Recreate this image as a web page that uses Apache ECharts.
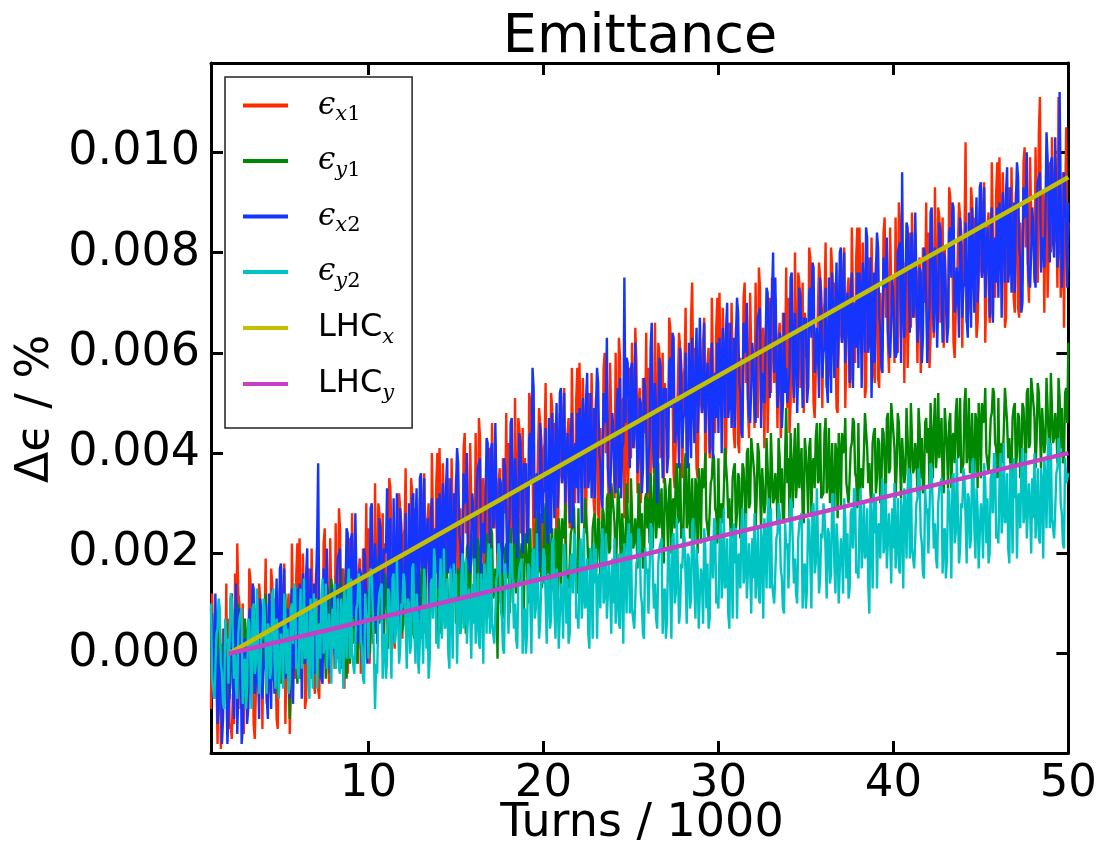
<!DOCTYPE html>
<html>
<head>
<meta charset="utf-8">
<script src="https://cdn.jsdelivr.net/npm/echarts@6/dist/echarts.min.js"></script>
<style>
  html, body { margin: 0; padding: 0; background: #ffffff; }
  #chart { width: 1100px; height: 846px; }
</style>
</head>
<body>
<div id="chart"></div>
<script>
// Sampling of the tracked turns (in units of 1000 turns): one sample every 62.5 turns from 1000 on.
const TURN_START = 1;
const TURN_STEP = 0.0625;

const xTicks = [10, 20, 30, 40, 50];
const yTicks = [0, 0.002, 0.004, 0.006, 0.008, 0.010];

// Relative emittance growth (%) of beam 1 / beam 2, horizontal and vertical (16 samples per 1000 turns).
const epsX1 = [
  -0.0011,0.0012,-0.0001,-0.0009,0.0008,0.0008,-0.0018,0.0000,0.0003,-0.0019,-0.0014,0.0005,-0.0006,-0.0005,0.0014,-0.0014,
  0.0007,-0.0015,-0.0014,-0.0017,-0.0008,-0.0014,0.0016,-0.0007,0.0022,0.0012,0.0010,-0.0011,0.0003,0.0010,-0.0016,0.0004,
  -0.0005,-0.0003,-0.0011,0.0017,0.0015,0.0006,0.0003,-0.0014,-0.0017,-0.0008,-0.0006,0.0005,0.0014,0.0011,0.0008,-0.0015,
  0.0005,0.0007,0.0019,-0.0010,-0.0009,-0.0007,-0.0003,0.0017,0.0014,0.0004,0.0011,-0.0001,-0.0013,-0.0015,0.0000,0.0013,
  0.0001,-0.0001,0.0013,0.0018,-0.0014,-0.0014,0.0009,0.0012,-0.0016,-0.0008,0.0022,0.0007,-0.0004,-0.0005,0.0016,0.0022,
  0.0012,0.0023,0.0004,-0.0002,0.0020,0.0011,-0.0011,-0.0009,0.0014,0.0017,0.0001,0.0000,0.0021,0.0008,-0.0005,-0.0008,
  0.0016,0.0017,-0.0007,-0.0009,0.0010,-0.0003,-0.0001,0.0022,0.0025,0.0005,0.0019,0.0000,-0.0006,0.0023,0.0011,0.0006,
  0.0009,-0.0003,0.0026,0.0006,-0.0001,0.0029,0.0025,0.0002,0.0016,0.0017,-0.0007,0.0013,0.0020,-0.0004,0.0005,0.0023,
  0.0005,0.0028,0.0015,0.0007,0.0024,0.0024,-0.0002,0.0016,0.0019,-0.0004,0.0002,0.0021,0.0010,0.0011,0.0030,0.0002,
  0.0025,-0.0002,0.0004,0.0025,0.0010,0.0004,0.0034,0.0011,0.0007,0.0030,0.0028,0.0007,0.0021,0.0028,0.0002,0.0022,
  0.0013,0.0015,0.0007,0.0035,0.0033,0.0024,0.0021,0.0004,0.0001,0.0010,0.0012,0.0023,0.0032,0.0029,0.0026,0.0003,
  0.0023,0.0025,0.0037,0.0008,0.0009,0.0011,0.0015,0.0035,0.0032,0.0022,0.0029,0.0017,0.0005,0.0003,0.0018,0.0031,
  0.0019,0.0017,0.0031,0.0036,0.0004,0.0004,0.0027,0.0030,0.0008,0.0010,0.0040,0.0025,0.0014,0.0013,0.0034,0.0040,
  0.0030,0.0041,0.0022,0.0016,0.0038,0.0029,0.0007,0.0009,0.0032,0.0035,0.0019,0.0018,0.0039,0.0026,0.0013,0.0010,
  0.0035,0.0036,0.0012,0.0010,0.0029,0.0016,0.0018,0.0041,0.0044,0.0024,0.0038,0.0019,0.0013,0.0042,0.0030,0.0025,
  0.0027,0.0015,0.0044,0.0024,0.0017,0.0047,0.0043,0.0020,0.0034,0.0035,0.0011,0.0031,0.0038,0.0014,0.0023,0.0041,
  0.0023,0.0046,0.0033,0.0025,0.0042,0.0042,0.0016,0.0034,0.0037,0.0014,0.0020,0.0039,0.0028,0.0029,0.0048,0.0020,
  0.0042,0.0015,0.0021,0.0042,0.0027,0.0021,0.0051,0.0028,0.0024,0.0047,0.0045,0.0024,0.0038,0.0045,0.0019,0.0039,
  0.0030,0.0032,0.0024,0.0052,0.0050,0.0041,0.0038,0.0021,0.0018,0.0027,0.0029,0.0040,0.0049,0.0046,0.0043,0.0020,
  0.0040,0.0042,0.0054,0.0025,0.0026,0.0028,0.0032,0.0052,0.0049,0.0039,0.0046,0.0034,0.0022,0.0020,0.0035,0.0048,
  0.0036,0.0034,0.0048,0.0053,0.0021,0.0021,0.0044,0.0047,0.0025,0.0027,0.0057,0.0042,0.0031,0.0030,0.0051,0.0057,
  0.0047,0.0058,0.0039,0.0033,0.0055,0.0046,0.0024,0.0026,0.0049,0.0052,0.0036,0.0035,0.0056,0.0043,0.0030,0.0027,
  0.0051,0.0052,0.0028,0.0026,0.0045,0.0032,0.0034,0.0057,0.0060,0.0040,0.0054,0.0035,0.0029,0.0058,0.0046,0.0041,
  0.0043,0.0031,0.0060,0.0040,0.0033,0.0063,0.0059,0.0036,0.0050,0.0051,0.0027,0.0047,0.0054,0.0030,0.0039,0.0057,
  0.0039,0.0062,0.0049,0.0041,0.0065,0.0058,0.0032,0.0050,0.0053,0.0030,0.0036,0.0055,0.0044,0.0045,0.0064,0.0029,
  0.0057,0.0030,0.0036,0.0057,0.0042,0.0036,0.0066,0.0043,0.0039,0.0062,0.0060,0.0039,0.0053,0.0060,0.0034,0.0054,
  0.0045,0.0047,0.0039,0.0067,0.0065,0.0056,0.0053,0.0036,0.0033,0.0042,0.0044,0.0055,0.0064,0.0061,0.0058,0.0035,
  0.0055,0.0057,0.0069,0.0040,0.0041,0.0043,0.0047,0.0067,0.0074,0.0054,0.0061,0.0049,0.0037,0.0035,0.0050,0.0063,
  0.0050,0.0048,0.0062,0.0067,0.0035,0.0035,0.0058,0.0061,0.0039,0.0041,0.0071,0.0056,0.0045,0.0044,0.0065,0.0071,
  0.0061,0.0072,0.0053,0.0047,0.0069,0.0060,0.0038,0.0040,0.0063,0.0066,0.0050,0.0049,0.0070,0.0057,0.0044,0.0041,
  0.0065,0.0066,0.0042,0.0040,0.0059,0.0046,0.0048,0.0071,0.0074,0.0054,0.0068,0.0049,0.0043,0.0072,0.0060,0.0055,
  0.0057,0.0045,0.0074,0.0054,0.0047,0.0077,0.0073,0.0050,0.0064,0.0065,0.0041,0.0061,0.0068,0.0044,0.0053,0.0071,
  0.0052,0.0075,0.0062,0.0054,0.0071,0.0071,0.0045,0.0063,0.0066,0.0043,0.0049,0.0068,0.0057,0.0058,0.0077,0.0049,
  0.0071,0.0044,0.0050,0.0071,0.0056,0.0050,0.0080,0.0057,0.0053,0.0076,0.0074,0.0053,0.0067,0.0074,0.0048,0.0068,
  0.0059,0.0061,0.0053,0.0081,0.0079,0.0070,0.0067,0.0050,0.0047,0.0056,0.0058,0.0069,0.0078,0.0075,0.0072,0.0049,
  0.0068,0.0070,0.0082,0.0053,0.0054,0.0056,0.0060,0.0081,0.0077,0.0067,0.0074,0.0062,0.0049,0.0048,0.0063,0.0076,
  0.0064,0.0062,0.0076,0.0081,0.0049,0.0049,0.0072,0.0075,0.0053,0.0055,0.0085,0.0070,0.0059,0.0058,0.0079,0.0085,
  0.0074,0.0085,0.0066,0.0060,0.0082,0.0073,0.0051,0.0053,0.0076,0.0079,0.0063,0.0062,0.0083,0.0070,0.0057,0.0054,
  0.0078,0.0079,0.0055,0.0053,0.0072,0.0059,0.0061,0.0084,0.0087,0.0067,0.0081,0.0062,0.0056,0.0085,0.0073,0.0068,
  0.0070,0.0058,0.0087,0.0067,0.0060,0.0090,0.0086,0.0063,0.0077,0.0078,0.0054,0.0074,0.0081,0.0057,0.0066,0.0084,
  0.0065,0.0088,0.0075,0.0067,0.0084,0.0084,0.0058,0.0076,0.0079,0.0056,0.0062,0.0081,0.0070,0.0071,0.0090,0.0062,
  0.0084,0.0057,0.0063,0.0084,0.0069,0.0063,0.0093,0.0070,0.0066,0.0089,0.0087,0.0066,0.0080,0.0087,0.0061,0.0081,
  0.0071,0.0073,0.0065,0.0093,0.0091,0.0082,0.0079,0.0062,0.0059,0.0068,0.0070,0.0081,0.0090,0.0087,0.0084,0.0061,
  0.0081,0.0083,0.0102,0.0066,0.0067,0.0069,0.0073,0.0093,0.0090,0.0080,0.0087,0.0075,0.0063,0.0066,0.0076,0.0089,
  0.0077,0.0075,0.0089,0.0094,0.0062,0.0062,0.0085,0.0088,0.0066,0.0068,0.0098,0.0083,0.0072,0.0071,0.0092,0.0098,
  0.0088,0.0099,0.0080,0.0074,0.0096,0.0087,0.0065,0.0067,0.0090,0.0093,0.0077,0.0076,0.0097,0.0084,0.0071,0.0068,
  0.0092,0.0093,0.0069,0.0067,0.0086,0.0073,0.0075,0.0098,0.0101,0.0081,0.0095,0.0076,0.0070,0.0099,0.0087,0.0082,
  0.0084,0.0074,0.0101,0.0081,0.0074,0.0104,0.0111,0.0077,0.0091,0.0092,0.0068,0.0088,0.0095,0.0071,0.0080,0.0098,
  0.0080,0.0103,0.0090,0.0082,0.0099,0.0099,0.0073,0.0111,0.0094,0.0071,0.0077,0.0096,0.0065,0.0086,0.0105,0.0077,
  0.0086
];

const epsY1 = [
  0.0009,0.0009,-0.0005,-0.0004,0.0001,-0.0002,-0.0009,0.0008,0.0004,-0.0006,0.0002,-0.0009,-0.0008,0.0005,0.0006,-0.0001,
  0.0003,-0.0009,0.0008,0.0001,-0.0007,0.0003,0.0009,-0.0005,-0.0001,0.0010,-0.0003,-0.0003,0.0005,-0.0008,-0.0010,0.0007,
  0.0004,0.0000,-0.0008,0.0005,0.0007,-0.0008,0.0002,0.0003,-0.0003,0.0007,0.0010,-0.0002,-0.0001,0.0010,-0.0005,-0.0005,
  -0.0003,0.0009,0.0012,-0.0003,-0.0001,0.0010,-0.0005,-0.0001,0.0007,-0.0005,-0.0006,0.0007,0.0005,-0.0008,0.0009,0.0005,
  -0.0006,0.0009,0.0005,0.0011,0.0012,-0.0001,-0.0003,-0.0005,-0.0013,0.0006,0.0007,0.0012,0.0011,0.0001,0.0000,-0.0006,
  0.0011,-0.0005,0.0001,0.0002,-0.0002,0.0005,0.0013,0.0013,0.0006,-0.0001,0.0003,-0.0003,-0.0005,0.0007,0.0009,0.0010,
  -0.0003,0.0000,0.0008,0.0007,-0.0005,-0.0002,0.0010,0.0009,0.0003,-0.0005,0.0012,0.0013,0.0001,0.0002,0.0015,0.0015,
  0.0010,0.0007,-0.0003,0.0003,0.0014,0.0012,0.0005,0.0017,0.0009,0.0009,0.0000,0.0002,-0.0005,0.0015,0.0003,-0.0002,
  0.0016,0.0016,0.0002,0.0003,0.0008,0.0005,-0.0002,0.0015,0.0011,0.0001,0.0009,-0.0002,-0.0001,0.0012,0.0013,0.0006,
  0.0012,0.0000,0.0017,0.0010,0.0002,0.0012,0.0018,0.0004,0.0008,0.0019,0.0006,0.0006,0.0014,0.0001,-0.0001,0.0016,
  0.0013,0.0009,0.0001,0.0014,0.0016,0.0001,0.0011,0.0012,0.0006,0.0016,0.0019,0.0007,0.0008,0.0019,0.0004,0.0004,
  0.0006,0.0018,0.0021,0.0006,0.0008,0.0019,0.0004,0.0008,0.0016,0.0004,0.0003,0.0016,0.0014,0.0001,0.0018,0.0014,
  0.0003,0.0018,0.0014,0.0015,0.0021,0.0008,0.0006,0.0004,0.0009,0.0015,0.0016,0.0021,0.0020,0.0010,0.0009,0.0003,
  0.0020,0.0004,0.0010,0.0011,0.0007,0.0014,0.0022,0.0022,0.0015,0.0008,0.0012,0.0006,0.0004,0.0016,0.0018,0.0019,
  0.0006,0.0009,0.0017,0.0016,0.0004,0.0007,0.0019,0.0018,0.0012,0.0004,0.0021,0.0022,0.0010,0.0011,0.0024,0.0024,
  0.0019,0.0016,0.0006,0.0012,0.0023,0.0021,0.0014,0.0006,0.0018,0.0018,0.0009,0.0011,0.0024,0.0024,0.0012,0.0007,
  0.0025,0.0024,0.0011,0.0012,0.0017,0.0014,-0.0001,0.0024,0.0020,0.0010,0.0018,0.0007,0.0008,0.0021,0.0022,0.0015,
  0.0020,0.0008,0.0025,0.0018,0.0010,0.0020,0.0026,0.0012,0.0016,0.0027,0.0014,0.0014,0.0022,0.0009,0.0007,0.0024,
  0.0022,0.0018,0.0010,0.0023,0.0025,0.0010,0.0020,0.0021,0.0015,0.0025,0.0028,0.0016,0.0017,0.0028,0.0013,0.0013,
  0.0015,0.0027,0.0030,0.0015,0.0017,0.0028,0.0013,0.0017,0.0025,0.0013,0.0012,0.0025,0.0023,0.0010,0.0027,0.0023,
  0.0012,0.0027,0.0023,0.0024,0.0030,0.0017,0.0015,0.0013,0.0018,0.0024,0.0025,0.0030,0.0029,0.0019,0.0018,0.0012,
  0.0029,0.0013,0.0019,0.0020,0.0016,0.0023,0.0031,0.0031,0.0024,0.0017,0.0021,0.0015,0.0013,0.0025,0.0027,0.0028,
  0.0016,0.0019,0.0027,0.0026,0.0014,0.0017,0.0029,0.0028,0.0022,0.0014,0.0031,0.0032,0.0020,0.0021,0.0034,0.0034,
  0.0029,0.0026,0.0016,0.0022,0.0033,0.0031,0.0024,0.0016,0.0028,0.0028,0.0019,0.0021,0.0034,0.0034,0.0022,0.0017,
  0.0035,0.0035,0.0021,0.0022,0.0027,0.0024,0.0017,0.0034,0.0030,0.0020,0.0028,0.0017,0.0018,0.0031,0.0032,0.0025,
  0.0031,0.0022,0.0036,0.0029,0.0021,0.0031,0.0042,0.0023,0.0027,0.0038,0.0025,0.0025,0.0033,0.0020,0.0018,0.0035,
  0.0032,0.0028,0.0020,0.0033,0.0035,0.0020,0.0030,0.0031,0.0025,0.0035,0.0038,0.0026,0.0027,0.0038,0.0023,0.0023,
  0.0025,0.0037,0.0040,0.0025,0.0027,0.0038,0.0023,0.0027,0.0035,0.0023,0.0022,0.0035,0.0033,0.0020,0.0037,0.0033,
  0.0022,0.0037,0.0033,0.0034,0.0040,0.0027,0.0025,0.0023,0.0028,0.0034,0.0035,0.0040,0.0039,0.0029,0.0028,0.0022,
  0.0039,0.0023,0.0029,0.0030,0.0026,0.0033,0.0041,0.0041,0.0034,0.0027,0.0031,0.0025,0.0023,0.0035,0.0037,0.0038,
  0.0025,0.0028,0.0036,0.0035,0.0023,0.0026,0.0038,0.0037,0.0031,0.0023,0.0040,0.0041,0.0029,0.0030,0.0043,0.0043,
  0.0038,0.0035,0.0025,0.0031,0.0042,0.0040,0.0033,0.0025,0.0037,0.0037,0.0028,0.0030,0.0043,0.0043,0.0031,0.0026,
  0.0044,0.0044,0.0030,0.0031,0.0036,0.0033,0.0026,0.0043,0.0039,0.0030,0.0037,0.0026,0.0027,0.0040,0.0049,0.0034,
  0.0039,0.0027,0.0044,0.0037,0.0029,0.0039,0.0045,0.0031,0.0035,0.0046,0.0033,0.0033,0.0041,0.0028,0.0026,0.0043,
  0.0040,0.0036,0.0028,0.0041,0.0043,0.0028,0.0038,0.0039,0.0033,0.0043,0.0046,0.0034,0.0035,0.0046,0.0031,0.0031,
  0.0032,0.0044,0.0047,0.0032,0.0034,0.0045,0.0030,0.0034,0.0042,0.0030,0.0029,0.0042,0.0040,0.0027,0.0044,0.0040,
  0.0029,0.0044,0.0040,0.0041,0.0047,0.0034,0.0032,0.0030,0.0035,0.0041,0.0042,0.0047,0.0046,0.0036,0.0035,0.0029,
  0.0046,0.0030,0.0036,0.0037,0.0033,0.0040,0.0048,0.0048,0.0041,0.0034,0.0038,0.0032,0.0030,0.0042,0.0044,0.0045,
  0.0032,0.0035,0.0043,0.0042,0.0030,0.0033,0.0045,0.0044,0.0038,0.0030,0.0047,0.0048,0.0036,0.0037,0.0050,0.0050,
  0.0044,0.0041,0.0031,0.0037,0.0048,0.0046,0.0039,0.0031,0.0043,0.0043,0.0034,0.0036,0.0049,0.0049,0.0037,0.0032,
  0.0050,0.0050,0.0036,0.0037,0.0042,0.0039,0.0032,0.0049,0.0045,0.0035,0.0043,0.0032,0.0033,0.0046,0.0047,0.0040,
  0.0045,0.0033,0.0050,0.0043,0.0035,0.0045,0.0051,0.0037,0.0041,0.0052,0.0039,0.0039,0.0047,0.0034,0.0032,0.0049,
  0.0045,0.0041,0.0033,0.0046,0.0048,0.0033,0.0043,0.0044,0.0038,0.0048,0.0051,0.0039,0.0040,0.0051,0.0036,0.0036,
  0.0038,0.0050,0.0053,0.0038,0.0040,0.0051,0.0036,0.0040,0.0048,0.0036,0.0035,0.0048,0.0046,0.0033,0.0050,0.0046,
  0.0035,0.0050,0.0046,0.0047,0.0053,0.0040,0.0038,0.0036,0.0041,0.0047,0.0048,0.0053,0.0052,0.0042,0.0041,0.0035,
  0.0051,0.0035,0.0041,0.0042,0.0038,0.0045,0.0053,0.0053,0.0046,0.0039,0.0043,0.0037,0.0035,0.0047,0.0049,0.0050,
  0.0037,0.0040,0.0048,0.0047,0.0035,0.0038,0.0050,0.0049,0.0043,0.0035,0.0052,0.0053,0.0041,0.0042,0.0055,0.0055,
  0.0050,0.0047,0.0037,0.0043,0.0054,0.0052,0.0045,0.0037,0.0049,0.0049,0.0040,0.0042,0.0055,0.0055,0.0043,0.0038,
  0.0056,0.0056,0.0042,0.0043,0.0048,0.0045,0.0038,0.0055,0.0051,0.0041,0.0049,0.0038,0.0039,0.0052,0.0053,0.0046,
  0.0062
];

const epsX2 = [
  0.0007,0.0008,-0.0009,-0.0007,0.0012,0.0012,-0.0014,-0.0011,0.0001,0.0000,-0.0018,-0.0013,0.0005,0.0003,-0.0006,-0.0018,
  -0.0011,-0.0008,0.0011,0.0012,-0.0006,-0.0013,0.0004,0.0014,-0.0016,-0.0007,0.0009,0.0007,-0.0018,-0.0015,0.0003,0.0002,
  0.0003,-0.0014,-0.0011,0.0008,0.0009,-0.0001,0.0014,0.0013,-0.0008,-0.0006,0.0001,-0.0003,-0.0013,0.0011,0.0006,-0.0009,
  -0.0003,-0.0002,0.0010,-0.0009,-0.0013,0.0012,0.0006,-0.0011,0.0013,0.0003,-0.0008,0.0007,0.0015,-0.0006,0.0001,0.0017,
  0.0018,-0.0001,0.0001,0.0017,-0.0005,-0.0005,0.0009,0.0003,-0.0009,0.0010,0.0013,-0.0010,0.0005,0.0007,-0.0002,0.0013,
  -0.0005,0.0014,0.0010,-0.0009,0.0016,0.0011,-0.0002,0.0016,0.0021,-0.0002,0.0001,0.0017,-0.0004,0.0002,0.0014,-0.0004,
  0.0014,0.0022,0.0038,0.0005,0.0003,-0.0005,-0.0006,0.0017,0.0011,0.0012,0.0021,0.0002,-0.0001,-0.0004,0.0004,0.0013,
  0.0010,0.0001,-0.0002,0.0015,0.0019,0.0020,0.0021,-0.0003,0.0007,0.0008,0.0002,0.0012,0.0025,0.0024,0.0014,0.0003,
  0.0023,0.0024,0.0007,0.0009,0.0028,0.0028,0.0002,0.0005,0.0017,0.0016,-0.0002,0.0003,0.0021,0.0019,0.0010,-0.0002,
  0.0007,0.0010,0.0029,0.0030,0.0012,0.0005,0.0022,0.0017,0.0002,0.0011,0.0027,0.0025,0.0015,0.0003,0.0021,0.0020,
  0.0021,0.0033,0.0007,0.0026,0.0027,0.0004,0.0003,0.0031,0.0010,0.0012,0.0032,0.0015,0.0005,0.0029,0.0024,0.0009,
  0.0015,0.0016,0.0028,0.0009,0.0005,0.0030,0.0024,0.0007,0.0031,0.0032,0.0010,0.0025,0.0033,0.0012,-0.0003,0.0035,
  0.0036,0.0017,0.0019,0.0035,0.0013,0.0013,0.0027,0.0021,0.0009,0.0028,0.0031,0.0008,0.0023,0.0025,0.0016,0.0031,
  0.0013,0.0032,0.0028,0.0009,0.0034,0.0029,0.0016,0.0034,0.0039,0.0016,0.0019,0.0035,0.0014,0.0020,0.0032,0.0014,
  0.0033,0.0041,0.0038,0.0024,0.0022,0.0014,0.0013,0.0036,0.0030,0.0031,0.0040,0.0021,0.0018,0.0016,0.0023,0.0032,
  0.0028,0.0019,0.0016,0.0033,0.0037,0.0038,0.0039,0.0015,0.0025,0.0026,0.0020,0.0030,0.0043,0.0042,0.0032,0.0021,
  0.0041,0.0042,0.0025,0.0027,0.0046,0.0046,0.0020,0.0023,0.0035,0.0034,0.0016,0.0021,0.0039,0.0037,0.0028,0.0016,
  0.0024,0.0027,0.0046,0.0047,0.0029,0.0022,0.0039,0.0034,0.0019,0.0028,0.0044,0.0042,0.0032,0.0020,0.0038,0.0037,
  0.0038,0.0022,0.0024,0.0043,0.0044,0.0034,0.0057,0.0053,0.0027,0.0029,0.0036,0.0032,0.0017,0.0046,0.0041,0.0026,
  0.0032,0.0033,0.0045,0.0026,0.0022,0.0047,0.0041,0.0024,0.0048,0.0038,0.0027,0.0042,0.0050,0.0029,0.0036,0.0052,
  0.0053,0.0034,0.0036,0.0052,0.0030,0.0030,0.0044,0.0038,0.0026,0.0045,0.0048,0.0025,0.0040,0.0042,0.0033,0.0048,
  0.0030,0.0049,0.0045,0.0026,0.0051,0.0046,0.0033,0.0051,0.0056,0.0033,0.0036,0.0052,0.0031,0.0037,0.0049,0.0031,
  0.0049,0.0057,0.0054,0.0040,0.0038,0.0031,0.0029,0.0052,0.0046,0.0047,0.0063,0.0037,0.0034,0.0032,0.0039,0.0048,
  0.0044,0.0035,0.0032,0.0049,0.0053,0.0033,0.0055,0.0031,0.0041,0.0042,0.0075,0.0046,0.0059,0.0058,0.0048,0.0037,
  0.0057,0.0058,0.0041,0.0043,0.0062,0.0062,0.0036,0.0039,0.0051,0.0050,0.0032,0.0037,0.0055,0.0053,0.0044,0.0032,
  0.0039,0.0042,0.0061,0.0066,0.0044,0.0037,0.0054,0.0049,0.0030,0.0043,0.0059,0.0057,0.0047,0.0035,0.0053,0.0052,
  0.0053,0.0036,0.0039,0.0058,0.0059,0.0049,0.0064,0.0063,0.0042,0.0044,0.0051,0.0047,0.0037,0.0061,0.0056,0.0041,
  0.0047,0.0048,0.0060,0.0041,0.0037,0.0062,0.0056,0.0039,0.0063,0.0053,0.0042,0.0057,0.0065,0.0044,0.0051,0.0067,
  0.0067,0.0048,0.0050,0.0066,0.0044,0.0044,0.0058,0.0052,0.0040,0.0059,0.0062,0.0039,0.0054,0.0056,0.0047,0.0062,
  0.0044,0.0063,0.0059,0.0040,0.0065,0.0060,0.0047,0.0065,0.0070,0.0047,0.0050,0.0066,0.0045,0.0051,0.0063,0.0045,
  0.0063,0.0071,0.0068,0.0054,0.0052,0.0044,0.0043,0.0066,0.0060,0.0061,0.0070,0.0051,0.0048,0.0046,0.0053,0.0062,
  0.0058,0.0049,0.0046,0.0063,0.0067,0.0068,0.0069,0.0045,0.0055,0.0056,0.0050,0.0060,0.0073,0.0072,0.0062,0.0051,
  0.0070,0.0071,0.0080,0.0056,0.0075,0.0075,0.0049,0.0052,0.0064,0.0063,0.0045,0.0050,0.0068,0.0052,0.0057,0.0050,
  0.0053,0.0056,0.0075,0.0076,0.0058,0.0051,0.0068,0.0063,0.0048,0.0057,0.0073,0.0071,0.0061,0.0049,0.0067,0.0066,
  0.0067,0.0050,0.0053,0.0072,0.0073,0.0063,0.0078,0.0077,0.0056,0.0058,0.0065,0.0061,0.0051,0.0075,0.0070,0.0055,
  0.0060,0.0061,0.0073,0.0054,0.0050,0.0075,0.0069,0.0052,0.0076,0.0066,0.0055,0.0070,0.0078,0.0057,0.0064,0.0080,
  0.0081,0.0062,0.0064,0.0080,0.0058,0.0058,0.0072,0.0066,0.0054,0.0073,0.0076,0.0053,0.0068,0.0070,0.0061,0.0076,
  0.0057,0.0076,0.0072,0.0053,0.0078,0.0073,0.0060,0.0085,0.0083,0.0060,0.0063,0.0079,0.0051,0.0064,0.0076,0.0058,
  0.0076,0.0084,0.0081,0.0067,0.0065,0.0057,0.0056,0.0079,0.0073,0.0074,0.0083,0.0064,0.0061,0.0059,0.0066,0.0075,
  0.0071,0.0062,0.0059,0.0060,0.0080,0.0081,0.0082,0.0058,0.0096,0.0069,0.0063,0.0073,0.0086,0.0085,0.0075,0.0064,
  0.0083,0.0084,0.0067,0.0069,0.0088,0.0088,0.0062,0.0065,0.0077,0.0076,0.0058,0.0063,0.0081,0.0079,0.0070,0.0058,
  0.0066,0.0069,0.0088,0.0089,0.0071,0.0064,0.0081,0.0076,0.0061,0.0070,0.0086,0.0084,0.0074,0.0062,0.0080,0.0079,
  0.0079,0.0062,0.0065,0.0084,0.0085,0.0075,0.0090,0.0089,0.0068,0.0070,0.0077,0.0073,0.0063,0.0087,0.0082,0.0067,
  0.0073,0.0074,0.0086,0.0067,0.0063,0.0088,0.0082,0.0065,0.0089,0.0079,0.0068,0.0083,0.0091,0.0070,0.0077,0.0093,
  0.0094,0.0075,0.0077,0.0093,0.0071,0.0071,0.0085,0.0079,0.0067,0.0086,0.0089,0.0066,0.0081,0.0083,0.0074,0.0089,
  0.0071,0.0090,0.0086,0.0067,0.0092,0.0087,0.0074,0.0092,0.0097,0.0074,0.0077,0.0093,0.0072,0.0078,0.0090,0.0072,
  0.0090,0.0098,0.0095,0.0081,0.0079,0.0068,0.0070,0.0093,0.0087,0.0088,0.0100,0.0078,0.0075,0.0073,0.0080,0.0089,
  0.0085,0.0076,0.0073,0.0090,0.0094,0.0095,0.0096,0.0076,0.0082,0.0083,0.0077,0.0087,0.0104,0.0099,0.0089,0.0078,
  0.0098,0.0099,0.0082,0.0079,0.0103,0.0103,0.0077,0.0080,0.0112,0.0091,0.0073,0.0078,0.0096,0.0094,0.0085,0.0073,
  0.0090
];

const epsY2 = [
  0.0010,-0.0005,-0.0007,-0.0009,-0.0003,0.0004,0.0005,0.0011,0.0009,-0.0002,-0.0004,-0.0010,-0.0011,0.0007,0.0002,0.0003,
  -0.0006,0.0002,0.0012,0.0011,0.0003,-0.0005,0.0000,-0.0007,-0.0009,0.0004,0.0007,0.0008,0.0009,-0.0010,-0.0002,-0.0001,
  -0.0011,-0.0007,0.0007,0.0006,-0.0001,-0.0011,0.0009,0.0010,-0.0004,-0.0002,0.0013,0.0013,-0.0008,-0.0005,0.0004,0.0003,
  0.0011,0.0009,0.0001,-0.0008,0.0006,0.0005,-0.0005,-0.0003,0.0012,0.0013,-0.0001,-0.0007,0.0007,0.0003,-0.0009,-0.0002,
  0.0004,0.0001,-0.0007,0.0012,0.0008,-0.0004,0.0005,-0.0008,-0.0006,0.0009,0.0010,0.0002,0.0014,0.0013,-0.0003,-0.0002,
  -0.0005,0.0007,0.0013,-0.0003,0.0002,0.0015,-0.0001,0.0000,0.0009,-0.0006,-0.0009,0.0011,0.0006,-0.0007,0.0012,0.0004,
  0.0011,-0.0007,0.0005,0.0006,-0.0001,0.0011,0.0015,0.0000,0.0002,0.0014,-0.0003,-0.0003,0.0008,0.0003,-0.0006,0.0009,
  0.0001,0.0014,-0.0003,0.0002,0.0011,-0.0003,-0.0004,0.0011,0.0008,-0.0007,0.0013,0.0009,-0.0001,0.0013,0.0017,-0.0001,
  0.0015,0.0000,-0.0002,-0.0004,0.0002,0.0009,0.0010,0.0016,0.0014,0.0003,0.0001,-0.0005,-0.0006,0.0012,0.0007,0.0008,
  -0.0001,0.0015,0.0017,0.0016,0.0008,0.0000,-0.0011,-0.0002,-0.0004,0.0009,0.0012,0.0013,0.0014,-0.0005,0.0003,0.0004,
  -0.0005,-0.0001,0.0013,0.0012,0.0005,-0.0005,0.0015,0.0016,0.0002,0.0004,0.0019,0.0019,-0.0002,0.0001,0.0010,0.0009,
  0.0016,0.0014,0.0006,-0.0003,0.0011,0.0010,0.0000,0.0002,0.0017,0.0018,0.0004,-0.0002,0.0012,0.0008,-0.0004,0.0003,
  0.0009,0.0006,-0.0002,0.0017,0.0013,0.0001,0.0010,-0.0005,-0.0001,0.0014,0.0015,0.0007,0.0021,0.0018,0.0002,0.0003,
  0.0001,0.0013,0.0019,0.0003,0.0008,0.0021,0.0005,0.0006,0.0015,0.0000,-0.0003,0.0017,0.0012,-0.0001,0.0018,0.0010,
  0.0016,-0.0002,0.0010,0.0011,0.0004,0.0016,0.0020,0.0005,0.0007,0.0019,0.0002,0.0002,0.0013,0.0008,-0.0001,0.0014,
  0.0006,0.0019,0.0002,0.0007,0.0016,0.0002,0.0001,0.0016,0.0013,-0.0002,0.0018,0.0014,0.0004,0.0018,0.0022,0.0004,
  0.0021,0.0006,0.0004,0.0002,0.0008,0.0015,0.0016,0.0022,0.0020,0.0009,0.0007,0.0001,0.0000,0.0018,0.0013,0.0014,
  0.0004,0.0012,0.0022,0.0021,0.0013,0.0005,0.0010,0.0003,0.0001,0.0014,0.0017,0.0018,0.0019,0.0000,0.0008,0.0009,
  0.0000,0.0004,0.0018,0.0017,0.0010,0.0000,0.0020,0.0021,0.0007,0.0009,0.0024,0.0024,0.0003,0.0006,0.0015,0.0014,
  0.0021,0.0019,0.0011,0.0002,0.0016,0.0015,0.0005,0.0007,0.0022,0.0023,0.0009,0.0003,0.0017,0.0013,0.0001,0.0008,
  0.0014,0.0011,0.0003,0.0022,0.0018,0.0006,0.0015,0.0002,0.0004,0.0019,0.0020,0.0012,0.0024,0.0023,0.0007,0.0008,
  0.0005,0.0017,0.0023,0.0007,0.0012,0.0025,0.0009,0.0010,0.0019,0.0004,0.0001,0.0021,0.0016,0.0003,0.0022,0.0014,
  0.0021,0.0003,0.0015,0.0016,0.0009,0.0021,0.0025,0.0010,0.0012,0.0024,0.0007,0.0007,0.0018,0.0013,0.0004,0.0019,
  0.0010,0.0023,0.0006,0.0011,0.0020,0.0006,0.0005,0.0020,0.0017,0.0002,0.0022,0.0018,0.0008,0.0022,0.0026,0.0008,
  0.0024,0.0009,0.0007,0.0005,0.0011,0.0018,0.0019,0.0025,0.0023,0.0012,0.0010,0.0004,0.0003,0.0021,0.0016,0.0017,
  0.0008,0.0016,0.0026,0.0025,0.0017,0.0009,0.0014,0.0007,0.0005,0.0018,0.0021,0.0022,0.0023,0.0004,0.0012,0.0013,
  0.0003,0.0007,0.0021,0.0020,0.0013,0.0003,0.0023,0.0024,0.0010,0.0012,0.0027,0.0027,0.0006,0.0009,0.0018,0.0017,
  0.0025,0.0023,0.0015,0.0006,0.0020,0.0019,0.0009,0.0011,0.0026,0.0027,0.0013,0.0007,0.0021,0.0017,0.0005,0.0012,
  0.0017,0.0014,0.0006,0.0025,0.0021,0.0009,0.0018,0.0005,0.0007,0.0022,0.0023,0.0015,0.0027,0.0026,0.0010,0.0011,
  0.0009,0.0021,0.0027,0.0011,0.0016,0.0029,0.0013,0.0014,0.0023,0.0008,0.0005,0.0025,0.0020,0.0007,0.0026,0.0018,
  0.0025,0.0007,0.0019,0.0020,0.0013,0.0025,0.0029,0.0014,0.0016,0.0028,0.0011,0.0011,0.0022,0.0017,0.0008,0.0023,
  0.0015,0.0028,0.0011,0.0016,0.0025,0.0011,0.0010,0.0025,0.0022,0.0007,0.0027,0.0023,0.0013,0.0027,0.0031,0.0013,
  0.0029,0.0014,0.0012,0.0010,0.0016,0.0023,0.0024,0.0030,0.0028,0.0017,0.0015,0.0009,0.0008,0.0026,0.0021,0.0022,
  0.0013,0.0021,0.0031,0.0030,0.0022,0.0014,0.0019,0.0012,0.0010,0.0023,0.0026,0.0027,0.0028,0.0009,0.0017,0.0018,
  0.0009,0.0013,0.0027,0.0026,0.0019,0.0009,0.0029,0.0030,0.0016,0.0018,0.0033,0.0033,0.0012,0.0015,0.0024,0.0023,
  0.0030,0.0028,0.0020,0.0011,0.0025,0.0024,0.0014,0.0016,0.0031,0.0032,0.0018,0.0012,0.0026,0.0022,0.0010,0.0017,
  0.0023,0.0020,0.0012,0.0031,0.0027,0.0015,0.0024,0.0011,0.0013,0.0028,0.0029,0.0021,0.0033,0.0032,0.0016,0.0017,
  0.0015,0.0027,0.0033,0.0017,0.0022,0.0030,0.0019,0.0020,0.0029,0.0014,0.0008,0.0031,0.0026,0.0013,0.0032,0.0024,
  0.0031,0.0013,0.0025,0.0026,0.0019,0.0031,0.0035,0.0020,0.0022,0.0034,0.0017,0.0017,0.0028,0.0023,0.0014,0.0029,
  0.0021,0.0034,0.0017,0.0022,0.0031,0.0017,0.0016,0.0031,0.0028,0.0013,0.0033,0.0029,0.0019,0.0033,0.0037,0.0019,
  0.0036,0.0021,0.0019,0.0017,0.0023,0.0030,0.0031,0.0037,0.0035,0.0024,0.0022,0.0016,0.0015,0.0033,0.0028,0.0029,
  0.0020,0.0028,0.0038,0.0037,0.0029,0.0021,0.0026,0.0019,0.0017,0.0030,0.0033,0.0034,0.0035,0.0016,0.0024,0.0025,
  0.0015,0.0019,0.0033,0.0032,0.0025,0.0015,0.0035,0.0036,0.0022,0.0024,0.0039,0.0039,0.0018,0.0021,0.0030,0.0029,
  0.0037,0.0035,0.0027,0.0018,0.0032,0.0031,0.0021,0.0023,0.0038,0.0039,0.0025,0.0019,0.0033,0.0029,0.0017,0.0024,
  0.0030,0.0027,0.0019,0.0038,0.0034,0.0022,0.0031,0.0018,0.0020,0.0035,0.0036,0.0028,0.0040,0.0039,0.0023,0.0024,
  0.0022,0.0034,0.0040,0.0024,0.0029,0.0042,0.0026,0.0027,0.0036,0.0021,0.0018,0.0038,0.0033,0.0020,0.0039,0.0031,
  0.0037,0.0019,0.0031,0.0032,0.0025,0.0037,0.0041,0.0026,0.0028,0.0040,0.0023,0.0023,0.0034,0.0029,0.0020,0.0035,
  0.0027,0.0040,0.0023,0.0028,0.0037,0.0023,0.0022,0.0037,0.0034,0.0019,0.0039,0.0035,0.0025,0.0039,0.0043,0.0025,
  0.0042,0.0027,0.0025,0.0023,0.0029,0.0036,0.0037,0.0043,0.0041,0.0030,0.0028,0.0022,0.0021,0.0039,0.0034,0.0035,
  0.0036
];

// LHC reference growth: straight lines between the two end points.
const lhcTurns = [2, 50];
const lhcX = [0, 0.0095];
const lhcY = [0, 0.0040];

const COLORS = {
  epsX1: '#ff2a00',
  epsY1: '#008800',
  epsX2: '#1535ff',
  epsY2: '#00c4c4',
  lhcX: '#c4c000',
  lhcY: '#c440c4'
};

const FONT = '"DejaVu Sans", sans-serif';
const MATH = '"DejaVu Serif", serif';

const sampled = values => values.map((v, i) => [TURN_START + i * TURN_STEP, v]);
const endpoints = values => values.map((v, i) => [lhcTurns[i], v]);

function lineSeries(name, data, color, width) {
  return {
    name: name,
    type: 'line',
    data: data,
    symbol: 'none',
    showSymbol: false,
    clip: true,
    lineStyle: { color: color, width: width },
    itemStyle: { color: color },
    emphasis: { disabled: true },
    animation: false
  };
}

const legendLabels = {
  epsX1: '{e|ϵ}{sx|x}{sn|1}',
  epsY1: '{e|ϵ}{sx|y}{sn|1}',
  epsX2: '{e|ϵ}{sx|x}{sn|2}',
  epsY2: '{e|ϵ}{sx|y}{sn|2}',
  lhcX: '{t|LHC}{sx|x}',
  lhcY: '{t|LHC}{sx|y}'
};

const legendRich = {
  e: { fontFamily: MATH, fontStyle: 'italic', fontSize: 31, lineHeight: 40, color: '#000', verticalAlign: 'middle' },
  t: { fontFamily: FONT, fontSize: 32, lineHeight: 40, color: '#000', verticalAlign: 'middle' },
  sx: { fontFamily: MATH, fontStyle: 'italic', fontSize: 21, lineHeight: 16, color: '#000', verticalAlign: 'bottom' },
  sn: { fontFamily: MATH, fontSize: 21, lineHeight: 16, color: '#000', verticalAlign: 'bottom' }
};

function frameAxis(extra) {
  return Object.assign({
    type: 'value',
    axisLine: { show: true, onZero: false, lineStyle: { color: '#000', width: 3 } },
    axisTick: { show: true, inside: true, length: 12, lineStyle: { color: '#000', width: 3 } },
    splitLine: { show: false },
    minorTick: { show: false }
  }, extra);
}

const chart = echarts.init(document.getElementById('chart'), null, { renderer: 'canvas' });

chart.setOption({
  animation: false,
  backgroundColor: '#ffffff',
  grid: { left: 211, right: 31, top: 63, bottom: 93, containLabel: false },
  xAxis: [
    frameAxis({
      position: 'bottom', min: 1, max: 50,
      axisTick: { show: true, inside: true, length: 12, customValues: xTicks, lineStyle: { color: '#000', width: 3 } },
      axisLabel: { show: true, customValues: xTicks, fontFamily: FONT, fontSize: 45, color: '#000', margin: 9 }
    }),
    frameAxis({
      position: 'top', min: 1, max: 50,
      axisTick: { show: true, inside: true, length: 12, customValues: xTicks, lineStyle: { color: '#000', width: 3 } },
      axisLabel: { show: false }
    })
  ],
  yAxis: [
    frameAxis({
      position: 'left', min: -0.00198, max: 0.01178,
      axisTick: { show: true, inside: true, length: 12, customValues: yTicks, lineStyle: { color: '#000', width: 3 } },
      axisLabel: { show: true, customValues: yTicks, fontFamily: FONT, fontSize: 46, color: '#000', margin: 11,
        formatter: v => v.toFixed(3) }
    }),
    frameAxis({
      position: 'right', min: -0.00198, max: 0.01178,
      axisTick: { show: true, inside: true, length: 12, customValues: yTicks, lineStyle: { color: '#000', width: 3 } },
      axisLabel: { show: false }
    })
  ],
  legend: {
    orient: 'vertical',
    left: 225,
    top: 77,
    itemWidth: 45,
    itemHeight: 4,
    itemGap: 20,
    icon: 'rect',
    padding: [13, 18, 24, 18],
    backgroundColor: '#ffffff',
    borderColor: '#222222',
    borderWidth: 1.5,
    borderRadius: 0,
    selectedMode: false,
    data: ['epsX1', 'epsY1', 'epsX2', 'epsY2', 'lhcX', 'lhcY'],
    formatter: name => legendLabels[name],
    textStyle: { padding: [0, 0, 0, 25], rich: legendRich }
  },
  graphic: [
    {
      type: 'text', x: 640, y: 38, silent: true,
      style: { text: 'Emittance', font: '54px ' + FONT, fill: '#000', align: 'center', verticalAlign: 'middle' }
    },
    {
      type: 'text', x: 642, y: 824, silent: true,
      style: { text: 'Turns / 1000', font: '46px ' + FONT, fill: '#000', align: 'center', verticalAlign: 'middle' }
    },
    {
      type: 'text', x: 36, y: 409, rotation: Math.PI / 2, silent: true,
      style: { text: 'Δϵ / %', font: '46px ' + FONT, fill: '#000', align: 'center', verticalAlign: 'middle' }
    }
  ],
  series: [
    lineSeries('epsX1', sampled(epsX1), COLORS.epsX1, 2.4),
    lineSeries('epsY1', sampled(epsY1), COLORS.epsY1, 2.4),
    lineSeries('epsX2', sampled(epsX2), COLORS.epsX2, 2.4),
    lineSeries('epsY2', sampled(epsY2), COLORS.epsY2, 2.4),
    lineSeries('lhcX', endpoints(lhcX), COLORS.lhcX, 4.5),
    lineSeries('lhcY', endpoints(lhcY), COLORS.lhcY, 4.5)
  ]
});
</script>
</body>
</html>
